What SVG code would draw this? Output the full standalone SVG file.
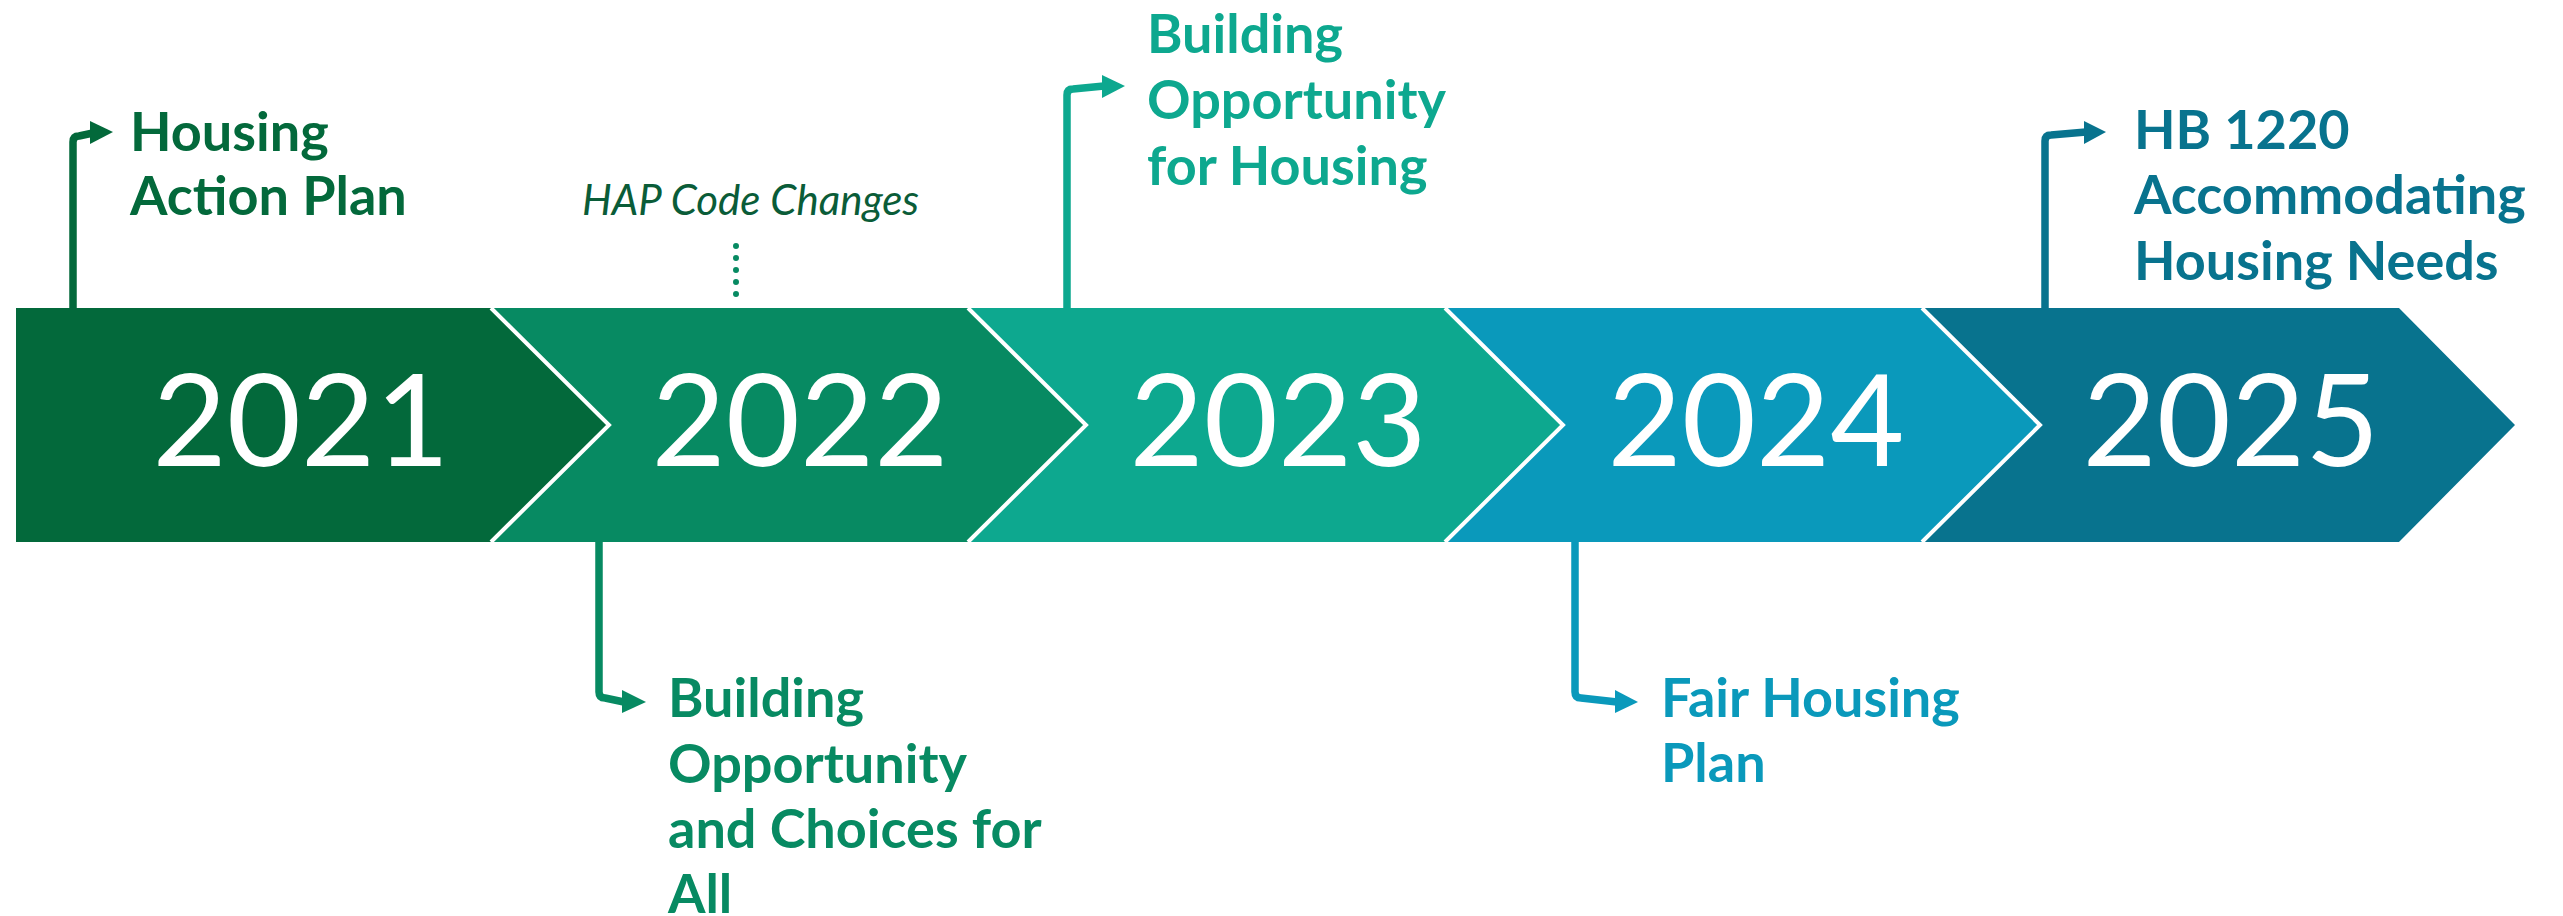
<svg xmlns="http://www.w3.org/2000/svg" width="2563" height="916" viewBox="0 0 2563 916">
  <style>
    .year { font-family: Lato, "Liberation Sans", sans-serif; font-size: 128px; font-weight: 400; fill: #ffffff; text-anchor: middle; }
    .label { font-family: Lato, "Liberation Sans", sans-serif; font-size: 54px; font-weight: 700; }
    .note { font-family: Lato, "Liberation Sans", sans-serif; font-size: 42px; font-style: italic; fill: #0a5c38; }
    .sep { fill: none; stroke: #ffffff; stroke-width: 4; stroke-linejoin: miter; }
    .lead { fill: none; stroke-width: 7.5; stroke-linejoin: round; stroke-linecap: butt; }
  </style>

  <!-- timeline band: five chevron segments -->
  <g id="y2021">
    <polygon points="16,308 491,308 609,425 491,542 16,542" fill="#03693b"/>
    <text class="year" x="301" y="466">2021</text>
  </g>
  <g id="y2022">
    <polygon points="491,308 968,308 1086,425 968,542 491,542 609,425" fill="#078a62"/>
    <text class="year" x="800" y="466">2022</text>
  </g>
  <g id="y2023">
    <polygon points="968,308 1445,308 1563,425 1445,542 968,542 1086,425" fill="#0da88f"/>
    <text class="year" x="1278" y="466">2023</text>
  </g>
  <g id="y2024">
    <polygon points="1445,308 1922,308 2040,425 1922,542 1445,542 1563,425" fill="#0a99bb"/>
    <text class="year" x="1756" y="466">2024</text>
  </g>
  <g id="y2025">
    <polygon points="1922,308 2399,308 2515,425 2399,542 1922,542 2040,425" fill="#08738e"/>
    <text class="year" x="2231" y="466">2025</text>
  </g>

  <!-- white separators between segments -->
  <g id="separators">
    <polyline class="sep" points="491,308 609,425 491,542"/>
    <polyline class="sep" points="968,308 1086,425 968,542"/>
    <polyline class="sep" points="1445,308 1563,425 1445,542"/>
    <polyline class="sep" points="1922,308 2040,425 1922,542"/>
  </g>

  <!-- event labels -->
  <g id="housing-action-plan">
    <text class="label" fill="#03693b"><tspan x="130" y="151">Housing</tspan><tspan x="130" y="215">Action Plan</tspan></text>
  </g>
  <g id="hap-code-changes">
    <text class="note" x="582" y="215">HAP Code Changes</text>
  </g>
  <g id="building-opportunity-choices">
    <text class="label" fill="#078a62"><tspan x="668" y="717">Building</tspan><tspan x="668" y="783">Opportunity</tspan><tspan x="668" y="848">and Choices for</tspan><tspan x="668" y="913">All</tspan></text>
  </g>
  <g id="building-opportunity-housing">
    <text class="label" fill="#0da88f"><tspan x="1147" y="53">Building</tspan><tspan x="1147" y="119">Opportunity</tspan><tspan x="1147" y="185">for Housing</tspan></text>
  </g>
  <g id="fair-housing-plan">
    <text class="label" fill="#0a99bb"><tspan x="1661" y="717">Fair Housing</tspan><tspan x="1661" y="782">Plan</tspan></text>
  </g>
  <g id="hb-1220">
    <text class="label" fill="#08738e"><tspan x="2134" y="149">HB 1220</tspan><tspan x="2134" y="214">Accommodating</tspan><tspan x="2134" y="280">Housing Needs</tspan></text>
  </g>

  <!-- leader arrows from the band to each label -->
  <g id="connectors">
    <path class="lead" stroke="#03693b" d="M73,308 L73,142 Q73,136 79,136 L93,133"/>
    <polygon points="90,121 113,132 90,144" fill="#03693b"/>

    <line x1="736" y1="246" x2="736" y2="306" stroke="#078a62" stroke-width="6" stroke-linecap="round" stroke-dasharray="0 12"/>

    <path class="lead" stroke="#078a62" d="M599,542 L599,692 Q599,698 605,698 L624,702"/>
    <polygon points="622,690 646,702 622,713" fill="#078a62"/>

    <path class="lead" stroke="#0da88f" d="M1067,308 L1067,95 Q1067,89 1073,89 L1104,86"/>
    <polygon points="1102,75 1125,86 1102,98" fill="#0da88f"/>

    <path class="lead" stroke="#0a99bb" d="M1575,542 L1575,692 Q1575,698 1581,698 L1617,702"/>
    <polygon points="1615,690 1638,702 1615,713" fill="#0a99bb"/>

    <path class="lead" stroke="#08738e" d="M2045,308 L2045,141 Q2045,135 2051,135 L2086,132"/>
    <polygon points="2084,121 2106,132 2084,144" fill="#08738e"/>
  </g>
</svg>
